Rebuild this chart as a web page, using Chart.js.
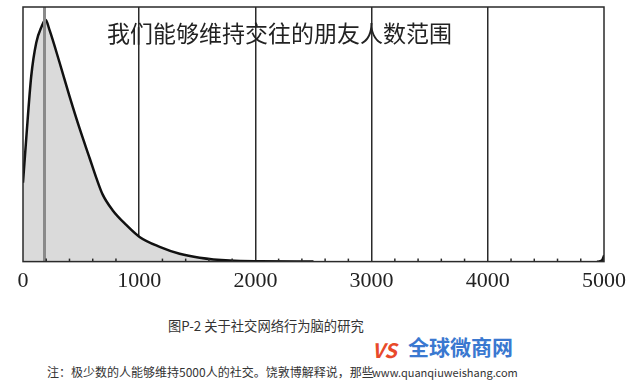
<!DOCTYPE html>
<html>
<head>
<meta charset="utf-8">
<script src="https://cdn.jsdelivr.net/npm/chart.js@4"></script>
<style>
    body { margin: 0; background: #fff; width: 641px; height: 389px; overflow: hidden; position: relative; }
    #wrap { position: absolute; left: 0; top: 0; width: 641px; height: 300px; }
    .txt { position: absolute; white-space: nowrap; font-family: "Noto Sans CJK SC", "Noto Sans", sans-serif; }
</style>
</head>
<body>
<div id="wrap"><canvas id="friendChart"></canvas></div>
<div class="txt" id="caption" style="left:168px;top:316px;font-size:13.3px;color:#333;">图P-2 关于社交网络行为脑的研究</div>
<div class="txt" style="left:47px;top:363px;font-size:12px;color:#333;">注：极少数的人能够维持5000人的社交。饶敦博解释说，那些</div>
<div class="txt" style="left:372px;top:335px;font-size:20px;font-weight:bold;font-style:italic;color:#e8492a;">VS</div>
<div class="txt" style="left:408px;top:331px;font-size:21px;font-weight:bold;color:#3a78d0;">全球微商网</div>
<div class="txt" style="left:372px;top:364px;font-size:11px;color:#333;">www.quanqiuweishang.com</div>
<script>
// Données (nombre d'amis -> hauteur relative de la courbe)
const friendCounts = [0, 28, 71, 114, 159, 194, 228, 314, 400, 487, 573, 630, 685, 771, 891, 1003, 1176, 1348, 1520, 1779, 2037, 2500];
const shareValues = [31, 48.4, 72.9, 86, 92.2, 95, 91, 78.3, 65, 52.3, 40.7, 33, 26.4, 20.2, 14.3, 9.7, 5.8, 3.1, 1.55, 0.4, 0.1, 0];
const tailCounts = [4940, 4980, 5000];
const tailValues = [0, 0.5, 2.5];
const markerCount = 185;
const xTicks = [0, 1000, 2000, 3000, 4000, 5000];
const chartTitle = '我们能够维持交往的朋友人数范围';

document.addEventListener('DOMContentLoaded', function() {
    const curve = friendCounts.map((x, i) => ({ x: x, y: shareValues[i] }));
    const tail = tailCounts.map((x, i) => ({ x: x, y: tailValues[i] }));

    // cadre, petits traits tous les 200 et titre dans la zone du graphique
    const framePlugin = {
        id: 'frame',
        afterDraw(chart) {
            const ctx = chart.ctx;
            const a = chart.chartArea;
            const xs = chart.scales.x;
            ctx.save();
            ctx.strokeStyle = '#2a2a2a';
            ctx.lineWidth = 1.5;
            for (let v = 200; v < 5000; v += 200) {
                if (v % 1000 === 0) continue;
                const px = xs.getPixelForValue(v);
                ctx.beginPath();
                ctx.moveTo(px, a.bottom);
                ctx.lineTo(px, a.bottom - 3);
                ctx.stroke();
            }
            ctx.strokeRect(a.left, a.top, a.right - a.left, a.bottom - a.top);
            ctx.fillStyle = '#222';
            ctx.font = '23px "Noto Sans CJK SC", sans-serif';
            ctx.textBaseline = 'middle';
            ctx.fillText(chartTitle, 107, 33);
            ctx.restore();
        }
    };

    new Chart(document.getElementById('friendChart'), {
        type: 'line',
        data: {
            datasets: [{
                data: curve,
                borderColor: '#111',
                backgroundColor: '#dadada',
                borderWidth: 2.5,
                fill: 'origin',
                cubicInterpolationMode: 'monotone',
                pointRadius: 0,
                order: 1
            }, {
                data: tail,
                borderColor: '#111',
                backgroundColor: '#333',
                borderWidth: 2,
                fill: 'origin',
                cubicInterpolationMode: 'monotone',
                pointRadius: 0,
                order: 1
            }, {
                data: [{ x: markerCount, y: 0 }, { x: markerCount, y: 100 }],
                borderColor: '#8a8a8a',
                borderWidth: 3,
                pointRadius: 0,
                fill: false,
                order: 0
            }]
        },
        options: {
            responsive: true,
            maintainAspectRatio: false,
            animation: false,
            layout: { padding: { left: 23, right: 37, top: 7, bottom: 0 } },
            plugins: {
                legend: { display: false },
                tooltip: { enabled: false }
            },
            scales: {
                x: {
                    type: 'linear',
                    min: 0,
                    max: 5000,
                    afterBuildTicks: function(scale) {
                        scale.ticks = xTicks.map(v => ({ value: v }));
                    },
                    border: { display: false },
                    grid: {
                        drawTicks: false,
                        lineWidth: 1.5,
                        color: ctx => (ctx.tick && (ctx.tick.value === 0 || ctx.tick.value === 5000)) ? 'rgba(0,0,0,0)' : '#2a2a2a'
                    },
                    ticks: {
                        padding: 6,
                        color: '#222',
                        font: { family: '"Liberation Serif", "DejaVu Serif", serif', size: 22 },
                        maxRotation: 0,
                        callback: function(value) {
                            return String(value);
                        }
                    }
                },
                y: {
                    display: false,
                    min: 0,
                    max: 100
                }
            }
        },
        plugins: [framePlugin]
    });
});
</script>
</body>
</html>
